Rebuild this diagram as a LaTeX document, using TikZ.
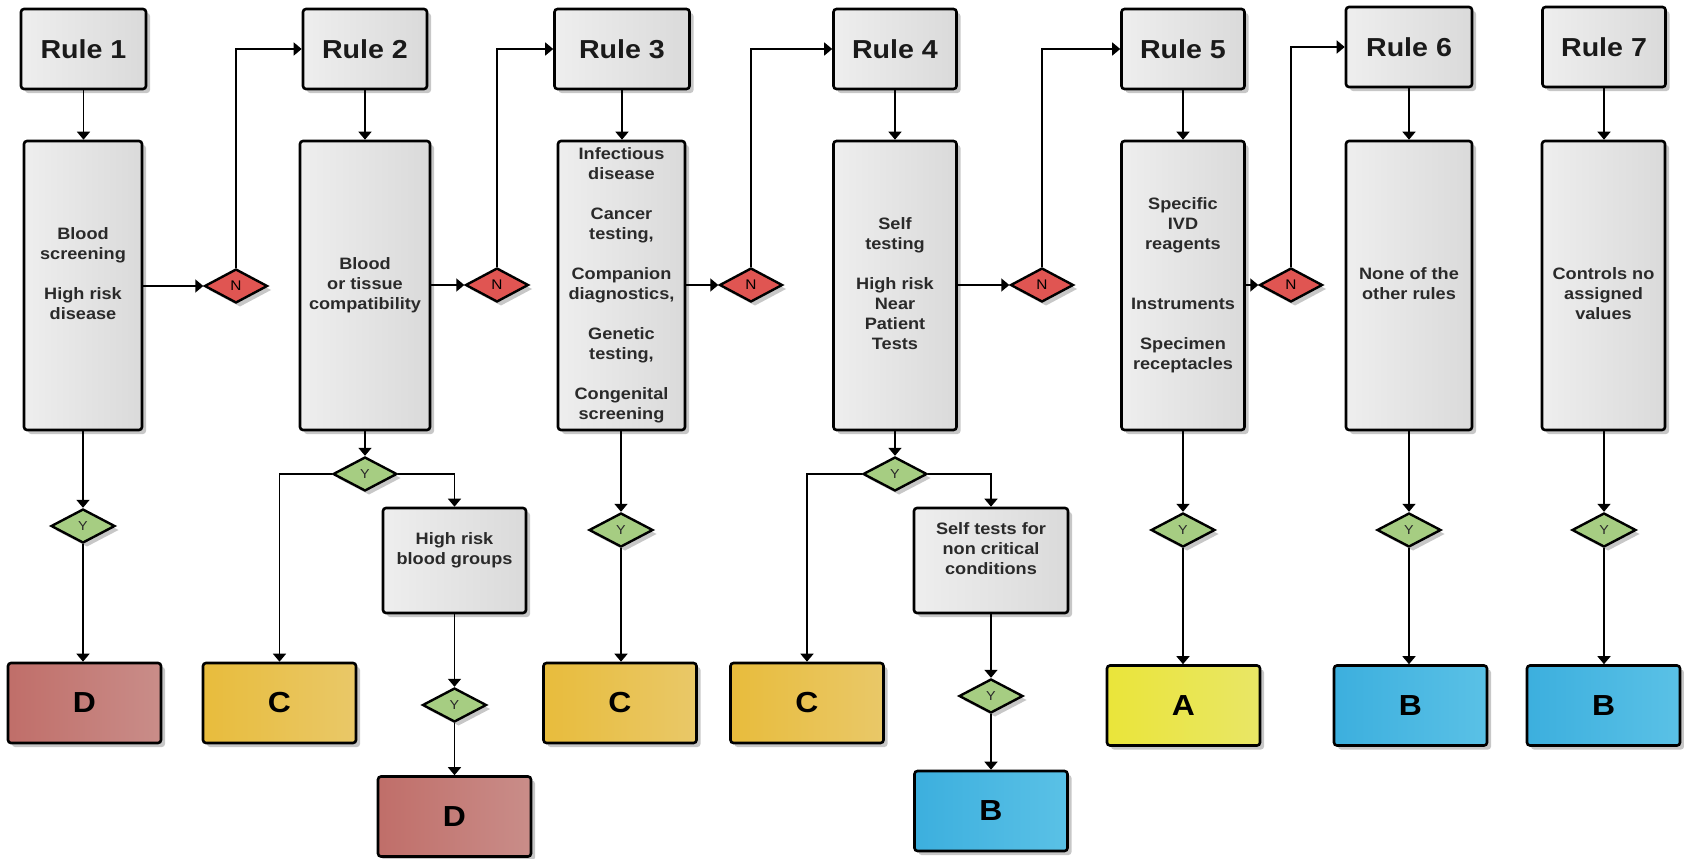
\documentclass[tikz,border=0pt]{standalone}
\usepackage{fontspec}
\setmainfont{Liberation Sans}[FakeStretch=1.1]
\usetikzlibrary{shapes.geometric,arrows.meta,shadows}
\definecolor{grayL}{HTML}{EEEEEE}
\definecolor{grayR}{HTML}{DADADA}
\definecolor{nred}{HTML}{E05552}
\definecolor{ygreen}{HTML}{A6CD82}
\definecolor{dL}{HTML}{C06E69}
\definecolor{dR}{HTML}{C98D89}
\definecolor{cL}{HTML}{E8BC3C}
\definecolor{cR}{HTML}{E9C868}
\definecolor{aL}{HTML}{EAE53A}
\definecolor{aR}{HTML}{E9E666}
\definecolor{bL}{HTML}{3CAFDE}
\definecolor{bR}{HTML}{5AC1E6}
\definecolor{rtext}{HTML}{1A1A1A}
\definecolor{btext}{HTML}{2A2A2A}
\begin{document}
\begin{tikzpicture}[x=1pt,y=-1pt,
  shadowed/.style={drop shadow={shadow xshift=4pt,shadow yshift=-4pt,fill=black,opacity=0.22}},
  rulebox/.style={draw=black,line width=2.6pt,rounded corners=3pt,left color=grayL,right color=grayR,shadowed,inner sep=0pt,minimum height=80pt,font=\fontsize{26}{30}\selectfont\bfseries,text=rtext},
  tallbox/.style={rulebox,minimum height=289pt,font=\fontsize{16.5}{20}\selectfont\bfseries,text=btext,align=center},
  subbox/.style={rulebox,minimum height=105pt,font=\fontsize{16.5}{20}\selectfont\bfseries,text=btext,align=center},
  res/.style={draw=black,line width=2.6pt,rounded corners=3pt,shadowed,inner sep=0pt,minimum width=153pt,minimum height=80pt,font=\fontsize{29}{32}\selectfont\bfseries,text=black},
  dres/.style={res,left color=dL,right color=dR},
  cres/.style={res,left color=cL,right color=cR},
  ares/.style={res,left color=aL,right color=aR},
  bres/.style={res,left color=bL,right color=bR},
  ndia/.style={diamond,draw=black,line width=2.4pt,fill=nred,shadowed,minimum width=63pt,minimum height=34pt,inner sep=0pt,font=\fontsize{14}{14}\selectfont},
  ydia/.style={ndia,fill=ygreen,minimum width=64pt,text=btext,font=\fontsize{13}{13}\selectfont},
  arr/.style={line width=1.6pt,-{Triangle[width=13pt,length=8pt]}}
]
\useasboundingbox (0,0) rectangle (1684,859);

% rule boxes
\node[rulebox,minimum width=125pt] (R1) at (83.5,49) {Rule 1};
\node[rulebox,minimum width=124pt] (R2) at (365,49) {Rule 2};
\node[rulebox,minimum width=135pt] (R3) at (622,49) {Rule 3};
\node[rulebox,minimum width=123pt] (R4) at (895,49) {Rule 4};
\node[rulebox,minimum width=123pt] (R5) at (1183,49) {Rule 5};
\node[rulebox,minimum width=126pt] (R6) at (1409,47) {Rule 6};
\node[rulebox,minimum width=123pt] (R7) at (1604,47) {Rule 7};

% tall boxes
\node[tallbox,minimum width=118pt] (T1) at (83,285.5) {\strut Blood\\\strut screening\\\strut\\\strut High risk\\\strut disease\\\strut};
\node[tallbox,minimum width=130pt] (T2) at (365,285.5) {\strut Blood\\\strut or tissue\\\strut compatibility};
\node[tallbox,minimum width=127pt] (T3) at (621.5,285.5) {\strut Infectious\\\strut disease\\\strut\\\strut Cancer\\\strut testing,\\\strut\\\strut Companion\\\strut diagnostics,\\\strut\\\strut Genetic\\\strut testing,\\\strut\\\strut Congenital\\\strut screening};
\node[tallbox,minimum width=123pt] (T4) at (895,285.5) {\strut Self\\\strut testing\\\strut\\\strut High risk\\\strut Near\\\strut Patient\\\strut Tests};
\node[tallbox,minimum width=123pt] (T5) at (1183,285.5) {\strut Specific\\\strut IVD\\\strut reagents\\\strut\\\strut\\\strut Instruments\\\strut\\\strut Specimen\\\strut receptacles};
\node[tallbox,minimum width=126pt] (T6) at (1409,285.5) {\strut None of the\\\strut other rules};
\node[tallbox,minimum width=123pt] (T7) at (1603.5,285.5) {\strut\\\strut Controls no\\\strut assigned\\\strut values};

% N diamonds
\node[ndia] (N1) at (236,286) {N};
\node[ndia] (N2) at (497,285) {N};
\node[ndia] (N3) at (751,285) {N};
\node[ndia] (N4) at (1042,285) {N};
\node[ndia] (N5) at (1291,285) {N};

% Y diamonds
\node[ydia] (Y1) at (83,526) {Y};
\node[ydia] (Y2) at (365,474) {Y};
\node[ydia] (Y3) at (454.5,705) {Y};
\node[ydia] (Y4) at (621,530) {Y};
\node[ydia] (Y5) at (895,474) {Y};
\node[ydia] (Y6) at (991,696) {Y};
\node[ydia] (Y7) at (1183,530) {Y};
\node[ydia] (Y8) at (1409,530) {Y};
\node[ydia] (Y9) at (1604,530) {Y};

% sub boxes
\node[subbox,minimum width=143pt] (HR) at (454.5,560.5) {\strut High risk\\\strut blood groups\\\strut};
\node[subbox,minimum width=154pt] (ST) at (991,560.5) {\strut Self tests for\\\strut non critical\\\strut conditions\\\strut};

% results
\node[dres] (D1) at (84.5,703) {D};
\node[cres] (C1) at (279.5,703) {C};
\node[dres] (D2) at (454.5,816.5) {D};
\node[cres] (C2) at (620,703) {C};
\node[cres] (C3) at (807,703) {C};
\node[bres] (B1) at (991,811) {B};
\node[ares] (A1) at (1183.5,705.5) {A};
\node[bres] (B2) at (1410.5,705.5) {B};
\node[bres] (B3) at (1603.5,705.5) {B};

% rule -> tall
\foreach \i in {1,...,7}{
  \draw[arr] (R\i.south) -- (R\i.south |- T\i.north);
}
% tall -> N -> next rule
\draw[arr] (T1.east |- N1.west) -- (N1.west);
\draw[arr] (T2.east |- N2.west) -- (N2.west);
\draw[arr] (T3.east |- N3.west) -- (N3.west);
\draw[arr] (T4.east |- N4.west) -- (N4.west);
\draw[arr] (T5.east |- N5.west) -- (N5.west);
\draw[arr] (N1.north) |- (R2.west);
\draw[arr] (N2.north) |- (R3.west);
\draw[arr] (N3.north) |- (R4.west);
\draw[arr] (N4.north) |- (R5.west);
\draw[arr] (N5.north) |- (R6.west);

% tall -> Y
\draw[arr] (T1.south -| Y1.north) -- (Y1.north);
\draw[arr] (T2.south -| Y2.north) -- (Y2.north);
\draw[arr] (T3.south -| Y4.north) -- (Y4.north);
\draw[arr] (T4.south -| Y5.north) -- (Y5.north);
\draw[arr] (T5.south -| Y7.north) -- (Y7.north);
\draw[arr] (T6.south -| Y8.north) -- (Y8.north);
\draw[arr] (T7.south -| Y9.north) -- (Y9.north);

% Y -> results
\draw[arr] (Y1.south) -- (Y1.south |- D1.north);
\draw[arr] (Y2.west) -| (C1.north);
\draw[arr] (Y2.east) -| (HR.north);
\draw[arr] (HR.south) -- (HR.south |- Y3.north);
\draw[arr] (Y3.south) -- (Y3.south |- D2.north);
\draw[arr] (Y4.south) -- (Y4.south |- C2.north);
\draw[arr] (Y5.west) -| (C3.north);
\draw[arr] (Y5.east) -| (ST.north);
\draw[arr] (ST.south) -- (ST.south |- Y6.north);
\draw[arr] (Y6.south) -- (Y6.south |- B1.north);
\draw[arr] (Y7.south) -- (Y7.south |- A1.north);
\draw[arr] (Y8.south) -- (Y8.south |- B2.north);
\draw[arr] (Y9.south) -- (Y9.south |- B3.north);
\end{tikzpicture}
\end{document}
